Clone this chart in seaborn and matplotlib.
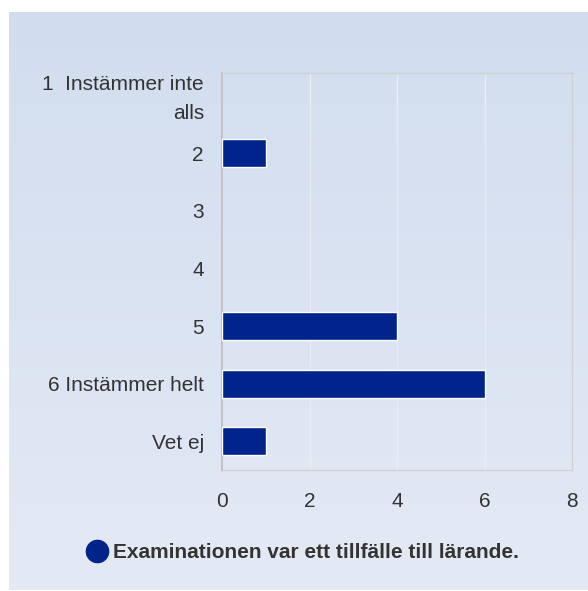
import numpy as np
import pandas as pd
import matplotlib
matplotlib.use("Agg")
import matplotlib.pyplot as plt
import matplotlib.transforms as mtransforms
import seaborn as sns
from matplotlib.lines import Line2D

categories = ["1  Instämmer inte\nalls", "2", "3", "4", "5", "6 Instämmer helt", "Vet ej"]
values = [0, 1, 0, 0, 4, 6, 1]
xticks = [0, 2, 4, 6, 8]
series_name = "Examinationen var ett tillfälle till lärande."

sns.set_theme(style="white")
plt.rcParams['font.family'] = ['Liberation Sans', 'DejaVu Sans']

W, H = 588, 591
fig = plt.figure(figsize=(W / 100, H / 100), dpi=100)
fig.patch.set_facecolor('white')

# gradient background panel
bg = fig.add_axes([9 / W, 1 - 590 / H, (588 - 9) / W, (590 - 12) / H])
top = np.array([0xd1, 0xdd, 0xef]) / 255
bot = np.array([0xe4, 0xea, 0xf5]) / 255
t = np.linspace(0, 1, 256)[:, None]
grad = top[None, :] * (1 - t) + bot[None, :] * t
bg.imshow(grad[:, None, :], aspect='auto', extent=[0, 1, 0, 1], origin='upper')
bg.set_axis_off()

ax_left, ax_right, ax_top, ax_bot = 222, 572, 73, 470
ax = fig.add_axes([ax_left / W, 1 - ax_bot / H, (ax_right - ax_left) / W, (ax_bot - ax_top) / H])
ax.set_facecolor('none')

df = pd.DataFrame({"cat": categories, "val": values})
sns.barplot(data=df, x="val", y="cat", orient="h", color="#00248a", saturation=1,
            width=0.49, edgecolor="white", linewidth=1.0, ax=ax, zorder=3)
for p in ax.patches:
    if p.get_width() == 0:
        p.set_visible(False)

ax.set_xlim(0, 8)
ax.set_ylim(6.5, -0.5 + 6 / 57.6)
ax.set_xticks(xticks)
ax.set_xticklabels([str(x) for x in xticks])
ax.set_xlabel("")
ax.set_ylabel("")
ax.grid(axis='x', color='#e9edf3', linewidth=1.0, zorder=0)
ax.grid(axis='y', visible=False)
for s in ax.spines.values():
    s.set_visible(True)
    s.set_color('#d0d0d0')
    s.set_linewidth(1.0)
ax.spines['left'].set_color('#c4c4c4')
ax.spines['left'].set_linewidth(1.5)
ax.tick_params(axis='both', length=0, labelsize=15, colors='#333333')
ax.tick_params(axis='y', pad=13)
ax.tick_params(axis='x', pad=16)
for lbl in ax.get_yticklabels():
    lbl.set_horizontalalignment('right')
    lbl.set_multialignment('right')
    lbl.set_linespacing(1.68)

# nudge the two-line first label up slightly
first = ax.yaxis.get_major_ticks()[0].label1
first.set_transform(first.get_transform() + mtransforms.ScaledTranslation(0, 4 / 100, fig.dpi_scale_trans))

handle = Line2D([], [], marker='o', linestyle='', markersize=16, markerfacecolor='#00248a',
                markeredgecolor='#00248a')
leg = fig.legend([handle], [series_name], loc='center', bbox_to_anchor=(303 / W, 1 - 553 / H),
                 frameon=False, handletextpad=0.25, borderpad=0, handlelength=1.0,
                 prop={'weight': 'bold', 'size': 15})
for txt in leg.get_texts():
    txt.set_color('#333333')

fig.savefig("out.png", dpi=100, facecolor='white')
